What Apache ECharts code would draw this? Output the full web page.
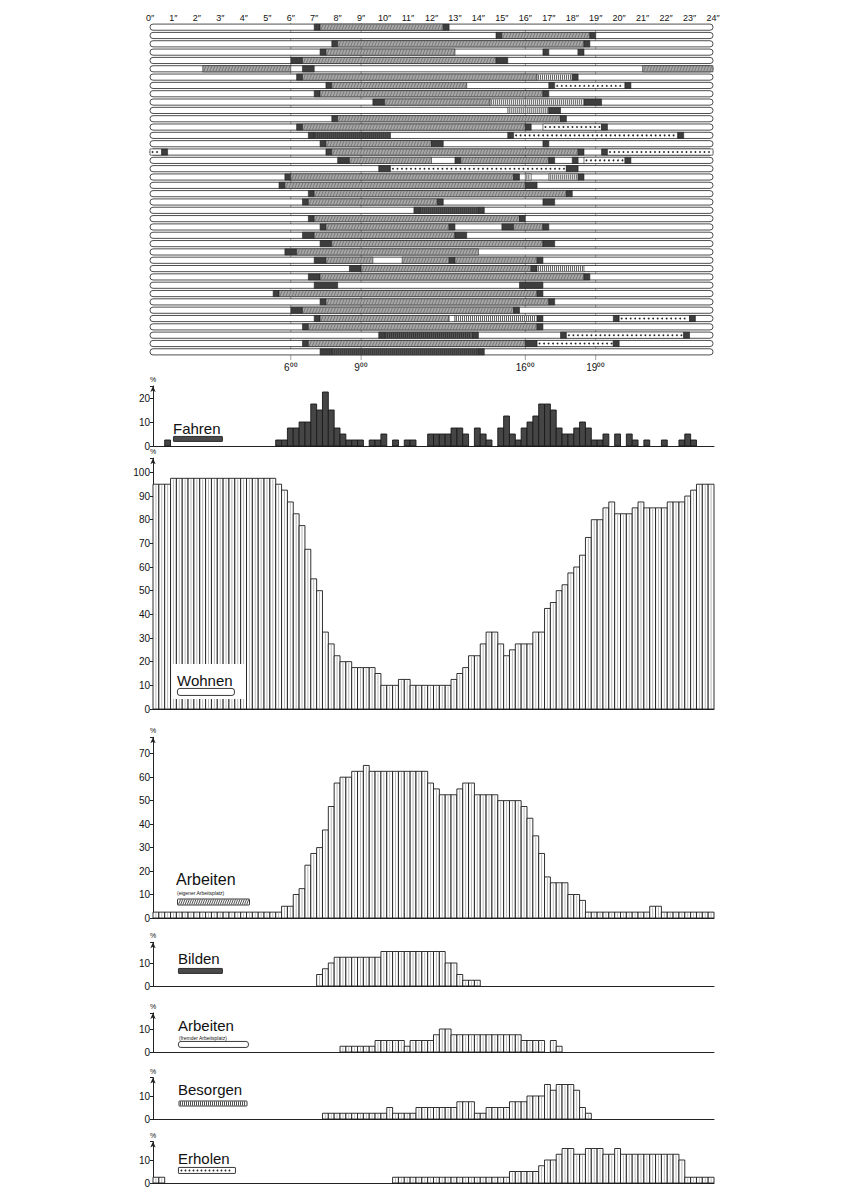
<!DOCTYPE html>
<html><head><meta charset="utf-8">
<script src="https://cdn.jsdelivr.net/npm/echarts/dist/echarts.min.js"></script>
<style>html,body{margin:0;padding:0;background:#fff}#c{width:857px;height:1197px}</style>
</head><body><div id="c"></div>
<script>
// ---------- DATA ----------
const headerHours = [0,1,2,3,4,5,6,7,8,9,10,11,12,13,14,15,16,17,18,19,20,21,22,23,24];
const markHours = [6,9,16,19];
const segTypes = ['F','A','B','S','R','W'];
// each row: [start hour, end hour, activity]
const rows = [
 [[7,7.25,'F'],[7.25,12.5,'A'],[12.5,12.75,'F']],
 [[14.75,15,'F'],[15,18.75,'A'],[18.75,19,'F']],
 [[7.75,8,'F'],[8,18.5,'A'],[18.5,18.75,'F']],
 [[7.25,7.5,'F'],[7.5,13,'A'],[16.75,17,'F'],[17,18.25,'W'],[18.25,18.5,'F']],
 [[6,6.5,'F'],[6.5,14.75,'A'],[14.75,15.25,'F']],
 [[2.25,6,'A'],[6.5,7,'F'],[21,24,'A']],
 [[6.25,6.5,'F'],[6.5,16.5,'A'],[16.5,18,'S'],[18,18.25,'F']],
 [[7.5,7.75,'F'],[7.75,13.5,'A'],[17,17.25,'F'],[17.25,20.25,'R'],[20.25,20.5,'F']],
 [[7,7.25,'F'],[7.25,16.75,'A'],[16.75,17,'F']],
 [[9.5,10,'F'],[10,14.5,'A'],[14.5,18.5,'S'],[18.5,19.25,'F']],
 [[15.25,17,'S'],[17,17.5,'F']],
 [[7.75,8,'F'],[8,17.5,'A'],[17.5,17.75,'F']],
 [[6.25,6.5,'F'],[6.5,16,'A'],[16,16.25,'F'],[16.75,19.25,'R'],[19.25,19.5,'F']],
 [[6.75,7,'F'],[7,10.25,'B'],[15.25,15.5,'F'],[15.5,22.5,'R'],[22.5,22.75,'F']],
 [[7.25,7.5,'F'],[7.5,12,'A'],[12,12.5,'F'],[16.75,17,'F']],
 [[0,0.5,'R'],[0.5,0.75,'F'],[7.5,7.75,'F'],[7.75,18.25,'A'],[18.25,18.5,'F'],[19.25,19.5,'F'],[19.5,24,'R']],
 [[8,8.5,'F'],[8.5,12,'A'],[13,13.25,'F'],[13.25,17,'A'],[17,17.25,'F'],[18,18.25,'F'],[18.5,20.25,'R'],[20.25,20.5,'F']],
 [[9.75,10.25,'F'],[10.25,17.75,'R'],[17.75,18.25,'F']],
 [[5.75,6,'F'],[6,15.5,'A'],[15.5,15.75,'F'],[16,16.25,'S'],[17,18.25,'S'],[18.25,18.5,'F']],
 [[5.5,5.75,'F'],[5.75,16,'A'],[16,16.5,'F']],
 [[6.75,7,'F'],[7,17.75,'A'],[17.75,18,'F']],
 [[6.5,6.75,'F'],[6.75,12.25,'A'],[12.25,12.5,'F'],[16.75,17.25,'F']],
 [[11.25,11.5,'F'],[11.5,14,'B'],[14,14.25,'F']],
 [[6.75,7,'F'],[7,15.75,'A'],[15.75,16,'F']],
 [[7.25,7.5,'F'],[7.5,12.75,'A'],[12.75,13,'F'],[15,15.5,'F'],[15.5,16.75,'A'],[16.75,17,'F']],
 [[6.5,7,'F'],[7,13,'A'],[13,13.5,'F']],
 [[7.25,7.75,'F'],[7.75,16.75,'A'],[16.75,17.25,'F']],
 [[5.75,6.25,'F'],[6.25,14,'A']],
 [[7,7.5,'F'],[7.5,9.5,'A'],[10.75,12.75,'A'],[12.75,13,'F'],[13,16.5,'A'],[16.5,16.75,'F']],
 [[8.5,9,'F'],[9,16.25,'A'],[16.25,16.5,'F'],[16.5,18.5,'S']],
 [[6.75,7.25,'F'],[7.25,18.5,'A'],[18.5,18.75,'F']],
 [[7,8,'F'],[15.75,16.75,'F']],
 [[5.25,5.5,'F'],[5.5,16.5,'A'],[16.5,16.75,'F']],
 [[7.25,7.5,'F'],[7.5,17,'A'],[17,17.25,'F']],
 [[6,6.5,'F'],[6.5,15.5,'A'],[15.5,15.75,'F']],
 [[7,7.25,'F'],[7.25,12.75,'A'],[12.75,13,'W'],[13,16.5,'S'],[16.5,16.75,'F'],[19.75,20,'F'],[20,23,'R'],[23,23.25,'F']],
 [[6.5,6.75,'F'],[6.75,16.5,'A'],[16.5,16.75,'F']],
 [[9.75,10,'F'],[10,13.75,'B'],[13.75,14,'F'],[17.5,17.75,'F'],[17.75,22.75,'R'],[22.75,23,'F']],
 [[6.5,6.75,'F'],[6.75,16,'A'],[16,16.5,'F'],[16.5,19.75,'R'],[19.75,20,'F']],
 [[7.25,7.75,'F'],[7.75,14,'B'],[14,14.25,'F']]
];
// percentages per quarter hour (96 bins, 0:00 .. 23:45)
const fahren = [
 0,0,2.5,0,0,0,0,0,0,0,0,0,
 0,0,0,0,0,0,0,0,0,2.5,2.5,7.5,
 7.5,10,10,17.5,15,22.5,15,7.5,5,2.5,2.5,2.5,
 0,2.5,2.5,5,0,2.5,0,2.5,2.5,0,0,5,
 5,5,5,7.5,7.5,5,0,7.5,5,2.5,0,7.5,
 12.5,5,2.5,7.5,10,12.5,17.5,17.5,15,7.5,5,5,
 7.5,10,7.5,2.5,2.5,5,0,5,0,5,2.5,0,
 2.5,0,0,2.5,0,0,2.5,5,2.5,0,0,0];
const wohnen = [
 95,95,95,97.5,97.5,97.5,97.5,97.5,97.5,97.5,97.5,97.5,
 97.5,97.5,97.5,97.5,97.5,97.5,97.5,97.5,97.5,95,92.5,87.5,
 82.5,77.5,67.5,55,50,32.5,27.5,22.5,20,20,17.5,17.5,
 17.5,17.5,15,10,10,10,12.5,12.5,10,10,10,10,
 10,10,10,12.5,15,17.5,22.5,22.5,27.5,32.5,32.5,27.5,
 22.5,25,27.5,27.5,27.5,32.5,32.5,42.5,45,50,52.5,57.5,
 60,65,72.5,80,80,85,87.5,82.5,82.5,82.5,85,87.5,
 85,85,85,85,87.5,87.5,87.5,90,92.5,95,95,95];
const arbeitenEigen = [
 2.5,2.5,2.5,2.5,2.5,2.5,2.5,2.5,2.5,2.5,2.5,2.5,
 2.5,2.5,2.5,2.5,2.5,2.5,2.5,2.5,2.5,2.5,5,5,
 10,12.5,22.5,27.5,30,37.5,47.5,57.5,60,60,62.5,62.5,
 65,62.5,62.5,62.5,62.5,62.5,62.5,62.5,62.5,62.5,62.5,57.5,
 55,52.5,52.5,52.5,55,57.5,57.5,52.5,52.5,52.5,52.5,50,
 50,50,50,47.5,42.5,35,27.5,17.5,15,15,15,10,
 10,7.5,2.5,2.5,2.5,2.5,2.5,2.5,2.5,2.5,2.5,2.5,
 2.5,5,5,2.5,2.5,2.5,2.5,2.5,2.5,2.5,2.5,2.5];
const bilden = [
 0,0,0,0,0,0,0,0,0,0,0,0,
 0,0,0,0,0,0,0,0,0,0,0,0,
 0,0,0,0,5,7.5,10,12.5,12.5,12.5,12.5,12.5,
 12.5,12.5,12.5,15,15,15,15,15,15,15,15,15,
 15,15,10,10,5,2.5,2.5,2.5,0,0,0,0,
 0,0,0,0,0,0,0,0,0,0,0,0,
 0,0,0,0,0,0,0,0,0,0,0,0,
 0,0,0,0,0,0,0,0,0,0,0,0];
const arbeitenFremd = [
 0,0,0,0,0,0,0,0,0,0,0,0,
 0,0,0,0,0,0,0,0,0,0,0,0,
 0,0,0,0,0,0,0,0,2.5,2.5,2.5,2.5,
 2.5,2.5,5,5,5,5,5,2.5,5,5,5,5,
 7.5,10,10,7.5,7.5,7.5,7.5,7.5,7.5,7.5,7.5,7.5,
 7.5,7.5,7.5,5,5,5,5,0,5,2.5,0,0,
 0,0,0,0,0,0,0,0,0,0,0,0,
 0,0,0,0,0,0,0,0,0,0,0,0];
const besorgen = [
 0,0,0,0,0,0,0,0,0,0,0,0,
 0,0,0,0,0,0,0,0,0,0,0,0,
 0,0,0,0,0,2.5,2.5,2.5,2.5,2.5,2.5,2.5,
 2.5,2.5,2.5,2.5,5,2.5,2.5,2.5,2.5,5,5,5,
 5,5,5,5,7.5,7.5,7.5,2.5,2.5,5,5,5,
 5,7.5,7.5,7.5,10,10,10,15,12.5,15,15,15,
 12.5,5,2.5,0,0,0,0,0,0,0,0,0,
 0,0,0,0,0,0,0,0,0,0,0,0];
const erholen = [
 2.5,2.5,0,0,0,0,0,0,0,0,0,0,
 0,0,0,0,0,0,0,0,0,0,0,0,
 0,0,0,0,0,0,0,0,0,0,0,0,
 0,0,0,0,0,2.5,2.5,2.5,2.5,2.5,2.5,2.5,
 2.5,2.5,2.5,2.5,2.5,2.5,2.5,2.5,2.5,2.5,2.5,2.5,
 2.5,5,5,5,5,5,7.5,10,10,12.5,15,15,
 12.5,12.5,15,15,15,12.5,12.5,15,12.5,12.5,12.5,12.5,
 12.5,12.5,12.5,12.5,12.5,12.5,10,2.5,2.5,2.5,2.5,2.5];

// ---------- LAYOUT ----------
const X0 = 153, XW = 561;
const panels = [
 {key:'Fahren', data:fahren, zero:446, max:25, unit:2.4, fill:'#454545'},
 {key:'Wohnen', data:wohnen, zero:709, max:106, unit:2.366, fill:'#fff', mid:true},
 {key:'Arbeiten1', data:arbeitenEigen, zero:918, max:77, unit:2.347, fill:'#fff', mid:true},
 {key:'Bilden', data:bilden, zero:986, max:19, unit:2.3, fill:'#fff', mid:true},
 {key:'Arbeiten2', data:arbeitenFremd, zero:1052, max:17, unit:2.3, fill:'#fff', mid:true},
 {key:'Besorgen', data:besorgen, zero:1119, max:18, unit:2.3, fill:'#fff', mid:true},
 {key:'Erholen', data:erholen, zero:1183, max:18, unit:2.3, fill:'#fff', mid:true}
];
const FONT = '"Liberation Sans", Arial, sans-serif';

const grids = [{left:150, top:23, width:563, height:333}];
const xAxes = [
 {gridIndex:0, type:'value', min:0, max:24, interval:1, position:'top',
  axisLine:{show:false}, axisTick:{show:false}, splitLine:{show:false},
  axisLabel:{margin:1, fontSize:9, color:'#111', fontFamily:FONT, formatter:v=>v+'\u2033'}},
 {gridIndex:0, type:'value', min:0, max:24, interval:1, position:'bottom',
  axisLine:{show:false}, axisTick:{show:false}, splitLine:{show:false},
  axisLabel:{margin:6, fontSize:10, color:'#111', fontFamily:FONT,
   formatter:v=>markHours.indexOf(v)>=0 ? v+'\u2070\u2070' : ''}}
];
const yAxes = [{gridIndex:0, type:'category', inverse:true, show:false, data:rows.map((r,i)=>i)}];
const series = [];

series.push({type:'custom', xAxisIndex:0, yAxisIndex:0, coordinateSystem:'cartesian2d', clip:false, z:1,
 data: markHours.map(h=>[h,0]), encode:{x:0},
 renderItem:(p,api)=>{
  const a = api.coord([api.value(0),0]);
  const cs = p.coordSys;
  return {type:'line', shape:{x1:a[0], y1:cs.y, x2:a[0], y2:cs.y+cs.height+4}, style:{stroke:'#777', lineWidth:0.7}};
 }});
series.push({type:'custom', xAxisIndex:0, yAxisIndex:0, clip:false, z:2,
 data: rows.map((r,i)=>[0,24,i]), encode:{x:[0,1], y:2},
 renderItem:(p,api)=>{
  const row = api.value(2);
  const a = api.coord([0,row]), b = api.coord([24,row]);
  const h = api.size([0,1])[1]*0.74;
  return {type:'rect', shape:{x:a[0], y:a[1]-h/2, width:b[0]-a[0], height:h, r:3},
   style:{fill:'#fff', stroke:'#222', lineWidth:0.8}};
 }});
const segData = [];
rows.forEach((r,i)=>r.forEach(s=>segData.push([s[0], s[1], i, segTypes.indexOf(s[2])])));
const segFill = {F:'#3e3e3e', A:'#a8a8a8', B:'#5a5a5a', S:'#fff', R:'#fff', W:'#fff'};
series.push({type:'custom', xAxisIndex:0, yAxisIndex:0, clip:false, z:3,
 data: segData, encode:{x:[0,1], y:2},
 renderItem:(p,api)=>{
  const s=api.value(0), e=api.value(1), row=api.value(2), t=segTypes[api.value(3)];
  const a = api.coord([s,row]), b = api.coord([e,row]);
  const h = api.size([0,1])[1]*0.74;
  const x=a[0], y=a[1]-h/2, w=b[0]-a[0];
  const kids = [{type:'rect', shape:{x, y, width:w, height:h}, style:{fill:segFill[t], stroke:'#222', lineWidth:0.6}}];
  if (t==='A') {
   for (let xx=x+1; xx<x+w-1; xx+=3) kids.push({type:'line', shape:{x1:xx, y1:y+h-0.5, x2:Math.min(xx+2,x+w), y2:y+0.5}, style:{stroke:'#555', lineWidth:0.6}});
  } else if (t==='B') {
   for (let xx=x+1; xx<x+w-1; xx+=2) kids.push({type:'line', shape:{x1:xx, y1:y+0.5, x2:xx, y2:y+h-0.5}, style:{stroke:'#222', lineWidth:0.7}});
  } else if (t==='S') {
   for (let xx=x+1.5; xx<x+w-1; xx+=2) kids.push({type:'line', shape:{x1:xx, y1:y+0.5, x2:xx, y2:y+h-0.5}, style:{stroke:'#333', lineWidth:0.8}});
  } else if (t==='R') {
   for (let xx=x+2.5; xx<x+w-1.5; xx+=4.5) kids.push({type:'circle', shape:{cx:xx, cy:a[1], r:0.9}, style:{fill:'#222'}});
  }
  return {type:'group', children:kids};
 }});

panels.forEach((pn,i)=>{
 const gi = grids.length;
 const h = pn.max*pn.unit;
 grids.push({left:X0, top:pn.zero-h, width:XW, height:h});
 xAxes.push({gridIndex:gi, type:'value', min:0, max:24, show:true,
  axisLine:{show:true, lineStyle:{color:'#222', width:1}}, axisTick:{show:false}, axisLabel:{show:false}, splitLine:{show:false}});
 const xi = xAxes.length-1;
 yAxes.push({gridIndex:gi, type:'value', min:0, max:pn.max, interval:10,
  name:'%', nameLocation:'end', nameGap:3, nameTextStyle:{fontSize:7, color:'#111', fontFamily:FONT, align:'center'},
  axisLine:{show:true, symbol:['none','arrow'], symbolSize:[4,6], lineStyle:{color:'#222', width:1}},
  axisTick:{show:true, length:3, lineStyle:{color:'#222'}},
  splitLine:{show:false},
  axisLabel:{fontSize:10, color:'#111', fontFamily:FONT, margin:3, formatter:v=>(v%10===0 ? String(v) : '')}});
 const yi = yAxes.length-1;
 series.push({type:'custom', xAxisIndex:xi, yAxisIndex:yi, coordinateSystem:'cartesian2d', clip:false, z:2,
  data: pn.data.map((v,k)=>[k*0.25, v]), encode:{x:0, y:1},
  renderItem:(p,api)=>{
   const x0=api.value(0), v=api.value(1);
   if (!v) return null;
   const a = api.coord([x0, v]), b = api.coord([x0+0.25, 0]);
   const kids = [{type:'rect', shape:{x:a[0], y:a[1], width:b[0]-a[0], height:b[1]-a[1]},
     style:{fill:pn.fill, stroke:'#1a1a1a', lineWidth:0.9}}];
   if (pn.mid) { const mx=(a[0]+b[0])/2; kids.push({type:'line', shape:{x1:mx, y1:a[1]+1, x2:mx, y2:b[1]}, style:{stroke:'#8a8a8a', lineWidth:0.6}}); }
   return {type:'group', children:kids};
  }});
});

// legend swatches (decoration)
function swatch(x, y, w, h, kind){
 const kids = [{type:'rect', z:120, shape:{x:0, y:0, width:w, height:h, r: kind==='plain'?2.5:0.5},
   style:{fill: kind==='dark' ? '#4a4a4a' : '#fff', stroke:'#222', lineWidth:0.9}}];
 if (kind==='hatch') for (let xx=1; xx<w-1; xx+=2.2) kids.push({type:'line', z:121, shape:{x1:xx, y1:h-0.5, x2:Math.min(xx+2,w-0.5), y2:0.5}, style:{stroke:'#222', lineWidth:0.8}});
 if (kind==='stripe') for (let xx=1.5; xx<w-1; xx+=2) kids.push({type:'line', z:121, shape:{x1:xx, y1:0.5, x2:xx, y2:h-0.5}, style:{stroke:'#222', lineWidth:0.8}});
 if (kind==='dots') for (let xx=3; xx<w-2; xx+=4) kids.push({type:'circle', z:121, shape:{cx:xx, cy:h/2, r:0.9}, style:{fill:'#222'}});
 return {type:'group', left:x, top:y, z:120, children:kids};
}
const txt = (x,y,s,size)=>({type:'text', left:x, top:y, z:120, style:{text:s, fill:'#111', font:`${size}px ${FONT}`}});
const graphic = [
 txt(173,421,'Fahren',15),
 swatch(173,436,49,5,'dark'),
 {type:'rect', left:172, top:664, z:60, shape:{width:74, height:35}, style:{fill:'#fff'}},
 txt(177,673,'Wohnen',15),
 swatch(177,688,57,7,'plain'),
 txt(176,871,'Arbeiten',16),
 txt(177,890,'(eigener Arbeitsplatz)',5),
 swatch(176,897,72,6,'hatch'),
 txt(178,951,'Bilden',15),
 swatch(178,968,44,5,'dark'),
 txt(178,1018,'Arbeiten',15),
 txt(179,1035,'(fremder Arbeitsplatz)',5),
 swatch(178,1041,70,6,'plain'),
 txt(178,1082,'Besorgen',15),
 swatch(178,1099,68,5,'stripe'),
 txt(178,1151,'Erholen',15),
 swatch(178,1167,57,6,'dots')
];

const chart = echarts.init(document.getElementById('c'), null, {renderer:'svg', width:857, height:1197});
chart.setOption({
 backgroundColor:'#fff', animation:false,
 grid:grids, xAxis:xAxes, yAxis:yAxes, series:series, graphic:graphic
});
</script></body></html>
